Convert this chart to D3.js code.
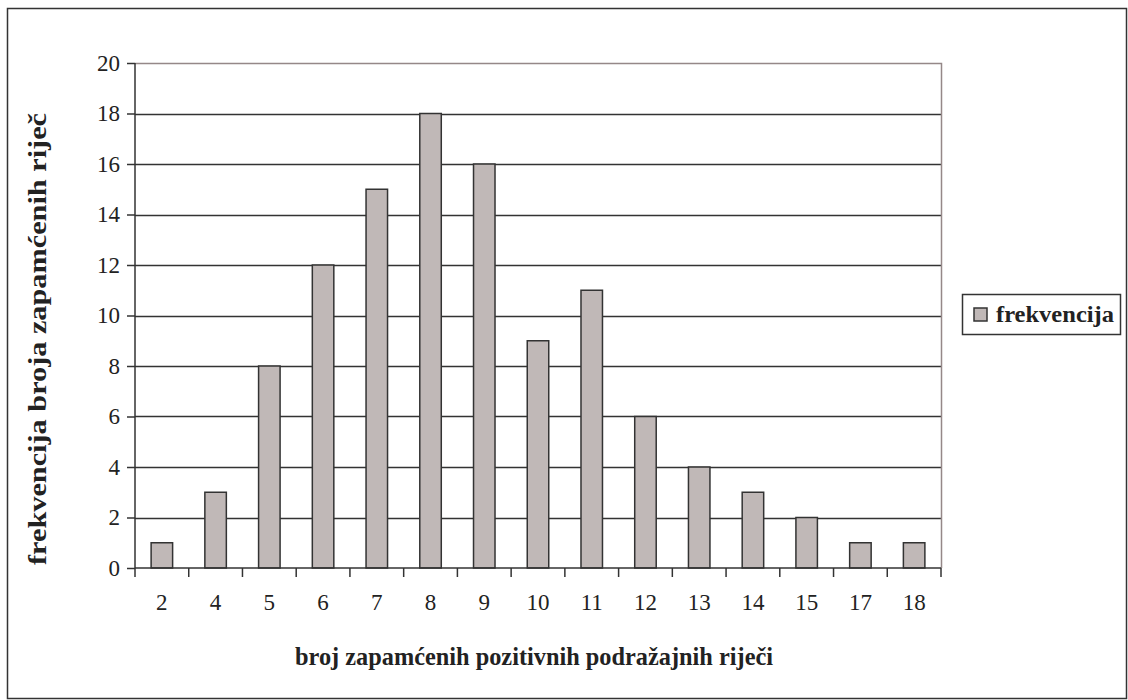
<!DOCTYPE html>
<html>
<head>
<meta charset="utf-8">
<script src="https://cdn.jsdelivr.net/npm/d3@7"></script>
<style>
  body { margin: 0; background: #fff; }
  svg text { font-family: 'Liberation Serif', 'Times New Roman', Times, serif; fill: #222; }
</style>
</head>
<body>
<svg id="chart" width="1128" height="700"></svg>
<script>
const categories = ['2', '4', '5', '6', '7', '8', '9', '10', '11', '12', '13', '14', '15', '17', '18'];
const frekvencija = [1, 3, 8, 12, 15, 18, 16, 9, 11, 6, 4, 3, 2, 1, 1];
const yTicks = [0, 2, 4, 6, 8, 10, 12, 14, 16, 18, 20];

const svg = d3.select('#chart');
const m = { left: 135, right: 941, top: 63, bottom: 568 };
const serif = "'Liberation Serif', 'Times New Roman', Times, serif";

// outer frame
svg.append('rect')
  .attr('x', 7.5).attr('y', 8.5)
  .attr('width', 1119).attr('height', 690)
  .attr('fill', 'none').attr('stroke', '#333').attr('stroke-width', 1.5);

const x = d3.scaleBand().domain(categories).range([m.left, m.right]);
const y = d3.scaleLinear().domain([0, 20]).range([m.bottom, m.top]);

// gridlines
svg.append('g')
  .selectAll('line')
  .data(yTicks.filter(d => d > 0 && d < 20))
  .enter().append('line')
  .attr('x1', m.left).attr('x2', m.right)
  .attr('y1', d => Math.round(y(d)) + 0.5).attr('y2', d => Math.round(y(d)) + 0.5)
  .attr('stroke', '#333').attr('stroke-width', 1.3);

// plot area border top/right
svg.append('path')
  .attr('d', `M${m.left},${m.top + 0.5}H${m.right + 0.5}V${m.bottom}`)
  .attr('fill', 'none').attr('stroke', '#958888').attr('stroke-width', 1.5);

// bars
const bw = x.bandwidth() / 2.5;
svg.append('g')
  .selectAll('rect')
  .data(frekvencija)
  .enter().append('rect')
  .attr('x', (d, i) => x(categories[i]) + (x.bandwidth() - bw) / 2)
  .attr('y', d => y(d))
  .attr('width', bw)
  .attr('height', d => y(0) - y(d))
  .attr('fill', '#c0b8b7')
  .attr('stroke', '#333').attr('stroke-width', 1.5);

// y axis
const yAxis = svg.append('g')
  .attr('transform', `translate(${m.left},0)`)
  .call(d3.axisLeft(y).tickValues(yTicks).tickSize(8).tickPadding(7).tickFormat(d3.format('d')));
yAxis.attr('font-family', serif).attr('font-size', 23);
yAxis.select('.domain').attr('stroke', '#333').attr('stroke-width', 1.5).attr('d', `M0,${m.top}V${m.bottom}`);
yAxis.selectAll('.tick line').attr('stroke', '#333').attr('stroke-width', 1.5);
yAxis.selectAll('.tick text').attr('fill', '#222');

// x axis
const xAxis = svg.append('g')
  .attr('transform', `translate(0,${m.bottom})`)
  .call(d3.axisBottom(x).tickSize(0).tickPadding(26));
xAxis.attr('font-family', serif).attr('font-size', 23);
xAxis.select('.domain').attr('stroke', '#333').attr('stroke-width', 1.5).attr('d', `M${m.left},0H${m.right}`);
xAxis.selectAll('.tick text').attr('fill', '#222');
// category separator ticks
svg.append('g')
  .selectAll('line')
  .data(categories.concat(['end']))
  .enter().append('line')
  .attr('x1', (d, i) => i < categories.length ? x(d) : m.right)
  .attr('x2', (d, i) => i < categories.length ? x(d) : m.right)
  .attr('y1', m.bottom).attr('y2', m.bottom + 9)
  .attr('stroke', '#333').attr('stroke-width', 1.5);

// axis titles
svg.append('text')
  .attr('x', 534).attr('y', 665)
  .attr('text-anchor', 'middle').attr('font-size', 25).attr('font-weight', 'bold')
  .attr('font-family', serif)
  .attr('textLength', 478).attr('lengthAdjust', 'spacingAndGlyphs')
  .text('broj zapamćenih pozitivnih podražajnih riječi');

svg.append('text')
  .attr('transform', 'translate(46,339) rotate(-90)')
  .attr('text-anchor', 'middle').attr('font-size', 25).attr('font-weight', 'bold')
  .attr('font-family', serif)
  .attr('textLength', 452).attr('lengthAdjust', 'spacingAndGlyphs')
  .text('frekvencija broja zapamćenih riječ');

// legend
const lg = svg.append('g').attr('transform', 'translate(962,294)');
lg.append('rect').attr('x', 0.5).attr('y', 0.5).attr('width', 158).attr('height', 40)
  .attr('fill', '#fff').attr('stroke', '#333').attr('stroke-width', 1.5);
lg.append('rect').attr('x', 12).attr('y', 14).attr('width', 13).attr('height', 13)
  .attr('fill', '#c0b8b7').attr('stroke', '#333').attr('stroke-width', 1.5);
lg.append('text').attr('x', 34).attr('y', 28).attr('font-size', 23).attr('font-weight', 'bold')
  .attr('font-family', serif)
  .attr('textLength', 118).attr('lengthAdjust', 'spacingAndGlyphs')
  .text('frekvencija');
</script>
</body>
</html>
